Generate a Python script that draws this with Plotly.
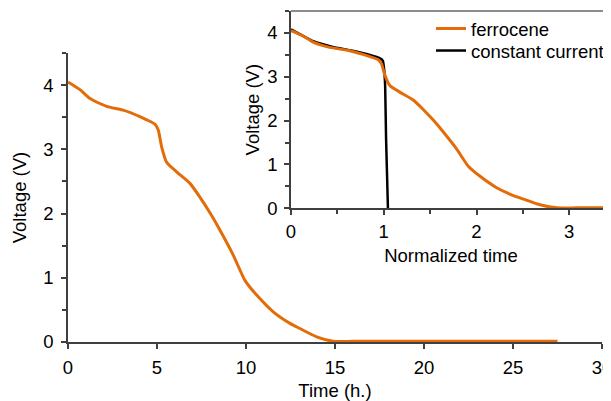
import plotly.graph_objects as go

# Main chart: ferrocene discharge, time in hours
time_h = [0, 0.67, 1.24, 2.17, 3.1, 4.04, 4.42, 4.89, 5.07, 5.26, 5.54, 6.1, 6.85, 7.4, 8.0,
          8.54, 9.29, 9.94, 10.6, 11.53, 12.47, 13.03, 13.97, 14.9, 16, 18, 20, 22, 24, 26, 27.5]
voltage = [4.05, 3.93, 3.79, 3.67, 3.61, 3.51, 3.46, 3.39, 3.30, 3.04, 2.80, 2.65, 2.47, 2.26, 2.0,
           1.74, 1.35, 0.96, 0.73, 0.47, 0.29, 0.21, 0.08, 0.01, 0.01, 0.01, 0.01, 0.01, 0.01, 0.01, 0.01]

# Normalization: constant-current discharge time (hours)
T_CC = 5.2

# Inset: constant current reference (normalized time)
cc_time = [0, 0.24, 0.45, 0.65, 0.85, 0.95, 0.99, 1.005, 1.015, 1.025, 1.035, 1.045]
cc_voltage = [4.08, 3.81, 3.68, 3.60, 3.50, 3.43, 3.37, 3.15, 2.8, 1.6, 0.8, 0.0]

main_xticks = [0, 5, 10, 15, 20, 25, 30]
volt_ticks = [0, 1, 2, 3, 4]
inset_xticks = [0, 1, 2, 3]

ORANGE = "#E36C09"
AX = "#404040"
FONT = "Liberation Sans, Arial, sans-serif"
FS = 18.5

norm_time = [t / T_CC for t in time_h]

fig = go.Figure()
fig.add_trace(go.Scatter(x=time_h, y=voltage, mode="lines", showlegend=False,
                         line=dict(color=ORANGE, width=3, shape="spline", smoothing=0.6),
                         xaxis="x", yaxis="y"))
fig.add_trace(go.Scatter(x=cc_time, y=cc_voltage, mode="lines", name="constant current",
                         legend="legend2",
                         line=dict(color="black", width=2.5, shape="spline", smoothing=0.3),
                         xaxis="x2", yaxis="y2"))
fig.add_trace(go.Scatter(x=norm_time, y=voltage, mode="lines", name="ferrocene",
                         legend="legend",
                         line=dict(color=ORANGE, width=3, shape="spline", smoothing=0.6),
                         xaxis="x2", yaxis="y2"))

axis_common = dict(showline=True, linecolor=AX, linewidth=1.5, ticks="outside",
                   tickcolor=AX, tickwidth=1.5, ticklen=5, showgrid=False, zeroline=False,
                   automargin=False, ticklabeloverflow="allow",
                   tickfont=dict(size=FS, color="black", family=FONT))
minor = dict(dtick=0.5, ticks="outside", ticklen=4, tickcolor=AX, tickwidth=1.5)

legend_common = dict(xanchor="left", yanchor="middle", bgcolor="rgba(0,0,0,0)",
                     font=dict(size=FS, family=FONT), itemwidth=30)

# page body adds an 8px offset; figure is sized so the plot lands where the reference has it
fig.update_layout(
    width=603, height=393,
    margin=dict(l=60, r=0, t=3, b=59),
    paper_bgcolor="white", plot_bgcolor="rgba(0,0,0,0)",
    font=dict(family=FONT, size=FS, color="black"),
    xaxis=dict(domain=[0, 534 / 543], range=[0, 30], tickvals=main_xticks,
               ticklabelstandoff=3,
               title=dict(text="Time (h.)", standoff=10, font=dict(size=FS)),
               anchor="y", **axis_common),
    yaxis=dict(domain=[0, 289 / 331], range=[0, 4.5], tickvals=volt_ticks, minor=minor,
               ticklabelstandoff=4,
               title=dict(text="Voltage (V)", standoff=12, font=dict(size=FS)),
               anchor="x", **axis_common),
    xaxis2=dict(domain=[223 / 543, 1], range=[0, 3.45], tickvals=inset_xticks, minor=minor,
                ticklabelstandoff=1,
                title=dict(text="Normalized time", standoff=8, font=dict(size=FS)),
                anchor="y2", **axis_common),
    yaxis2=dict(domain=[133.7 / 331, 1], range=[0, 4.5], tickvals=volt_ticks, minor=minor,
                ticklabelstandoff=3,
                title=dict(text="Voltage (V)", standoff=3, font=dict(size=FS)),
                anchor="x2", **axis_common),
    legend=dict(x=(431 - 68) / 543, y=(342 - 29) / 331, **legend_common),
    legend2=dict(x=(431 - 68) / 543, y=(342 - 51) / 331, **legend_common),
    shapes=[dict(type="line", xref="x2 domain", yref="y2 domain", x0=0, x1=1, y0=1, y1=1,
                 line=dict(color="#666666", width=1.5))],
)

fig.write_html("out.html")
